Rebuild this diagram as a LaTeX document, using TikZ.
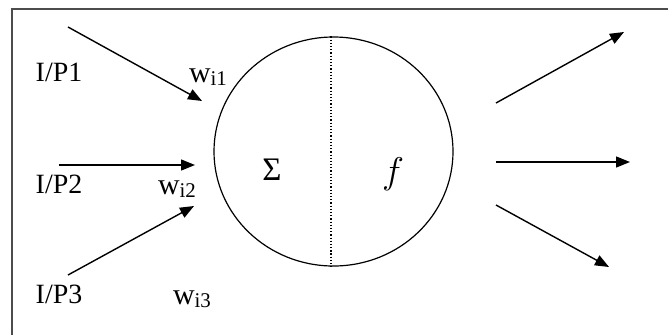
\documentclass[tikz,border=0pt]{standalone}
\usepackage{fontspec}
\usepackage{graphicx}
\setmainfont{Liberation Serif}
\usetikzlibrary{arrows.meta,shapes.geometric}
\begin{document}
\begin{tikzpicture}[x=1bp,y=-1bp,
  lbl/.style={inner sep=0pt,font=\fontsize{28}{30}\selectfont},
  wlbl/.style={inner sep=0pt,font=\fontsize{30}{32}\selectfont},
  arr/.style={line width=1.4bp,-{Triangle[length=14bp,width=11bp]}},
  frame/.style={line width=1.6bp,draw=black!70}]
\useasboundingbox (0,0) rectangle (668,335);
% frame (only left and top edges visible)
\coordinate (fbl) at (12,335);
\coordinate (ftl) at (12,9);
\coordinate (ftr) at (668,9);
\draw[frame] (fbl) -- (ftl) -- (ftr);
% neuron
\node[ellipse,draw,line width=1.2bp,minimum width=239bp,minimum height=229bp,inner sep=0pt] (cell) at (333.5,151.5) {};
\draw[dotted,line width=1.2bp] (cell.north -| 331,0) -- (cell.south -| 331,0);
\node[lbl,font=\fontsize{33}{35}\selectfont] (sum) at (272,170) {Σ};
\node[lbl] (fn) at (393,174) {\scalebox{1.5}{$f$}};
% inputs
\node[lbl] (ip1) at (59,72) {I/P1};
\node[lbl] (ip2) at (59,184) {I/P2};
\node[lbl] (ip3) at (59,294) {I/P3};
\newcommand{\wsub}[1]{w{\fontsize{21}{22}\selectfont\raisebox{-2.5bp}{#1}}}
\node[wlbl] (w1) at (208,77) {\wsub{i1}};
\node[wlbl] (w2) at (177,189) {\wsub{i2}};
\node[wlbl] (w3) at (192,299) {\wsub{i3}};
\coordinate (a1s) at (68,27);  \coordinate (a1e) at (202,101);
\coordinate (a2s) at (59,165); \coordinate (a2e) at (195,165);
\coordinate (a3s) at (68,275); \coordinate (a3e) at (194,206);
\draw[arr] (a1s) -- (a1e);
\draw[arr] (a2s) -- (a2e);
\draw[arr] (a3s) -- (a3e);
% outputs
\coordinate (o1s) at (496,103); \coordinate (o1e) at (624,32);
\coordinate (o2s) at (496,162); \coordinate (o2e) at (630,162);
\coordinate (o3s) at (496,205); \coordinate (o3e) at (609,267);
\draw[arr] (o1s) -- (o1e);
\draw[arr] (o2s) -- (o2e);
\draw[arr] (o3s) -- (o3e);
\end{tikzpicture}
\end{document}
